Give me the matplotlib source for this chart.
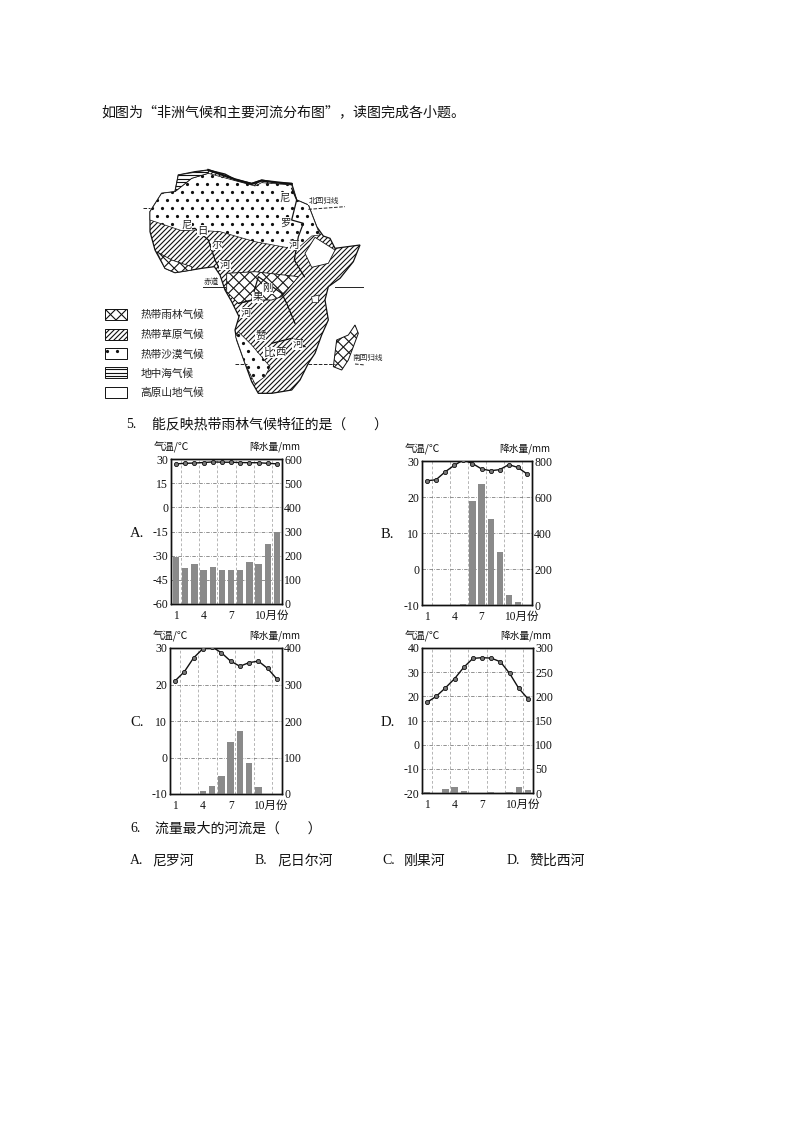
import matplotlib
matplotlib.use('Agg')
import numpy as np
import matplotlib.pyplot as plt
from matplotlib.patches import Polygon, Rectangle

plt.rcParams['font.family'] = ['Noto Sans CJK SC', 'DejaVu Sans']

W, H = 794, 1123
months = list(range(1, 13))
month_ticks = [1, 4, 7, 10]
month_labels = ['1', '4', '7', '']
month_unit = '10月份'

temp_a = [27, 27.3, 27.5, 27.8, 28.2, 28, 28, 27.8, 27.7, 27.7, 27.3, 27]
rain_a = [195, 150, 165, 140, 155, 140, 142, 142, 175, 165, 250, 300]
temp_b = [24.5, 24.8, 27, 28.8, 30.3, 29.3, 27.8, 27.3, 27.6, 29, 28.2, 26.4]
rain_b = [0, 0, 0, 0, 5, 580, 670, 480, 295, 55, 15, 0]
temp_c = [21, 23.5, 27.3, 29.8, 30.3, 28.7, 26.4, 25, 26, 26.4, 24.4, 21.5]
rain_c = [0, 0, 0, 8, 23, 50, 143, 173, 85, 18, 0, 0]
temp_d = [17.5, 20, 23.5, 27.3, 32, 35.7, 36, 35.8, 34.3, 29.5, 23.3, 19]
rain_d = [3, 1, 8, 12, 4, 0, 0, 2, 0, 3, 12, 6]

ticks_temp_a = [-60, -45, -30, -15, 0, 15, 30]
ticks_rain_a = [0, 100, 200, 300, 400, 500, 600]
ticks_temp_b = [-10, 0, 10, 20, 30]
ticks_rain_b = [0, 200, 400, 600, 800]
ticks_temp_c = [-10, 0, 10, 20, 30]
ticks_rain_c = [0, 100, 200, 300, 400]
ticks_temp_d = [-20, -10, 0, 10, 20, 30, 40]
ticks_rain_d = [0, 50, 100, 150, 200, 250, 300]

fig = plt.figure(figsize=(W / 100, H / 100), dpi=100, facecolor='white')
page = fig.add_axes([0, 0, 1, 1])
page.set_xlim(0, W)
page.set_ylim(H, 0)
page.axis('off')
SERIF = ['Liberation Serif', 'Noto Sans CJK SC']


def txt(x, y, s, size=10, **kw):
    kw.setdefault('va', 'center')
    kw.setdefault('ha', 'left')
    page.text(x, y, s, fontsize=size, color='#111111', **kw)


txt(101, 112, '如图为“非洲气候和主要河流分布图”，读图完成各小题。', 10.1)
txt(126, 424, '5.', 10, family=SERIF)
txt(152, 424, '能反映热带雨林气候特征的是（\u3000\u3000）', 10)
txt(130, 829, '6.', 10, family=SERIF)
txt(155, 829, '流量最大的河流是（\u3000\u3000）', 10)
answers = [(130, 'A.', '尼罗河'), (255, 'B.', '尼日尔河'), (382, 'C.', '刚果河'), (507, 'D.', '赞比西河')]
for x, a, b in answers:
    txt(x, 861, a, 10, family=SERIF)
    txt(x + 22, 861, b, 10)


def chart(box, letter, lx, temp, rain, tt, tr):
    l, r, t, b = box
    rect = [l / W, 1 - b / H, (r - l) / W, (b - t) / H]
    ax = fig.add_axes(rect)
    ax.set_xlim(0.45, 12.55)
    ax.set_ylim(tt[0], tt[-1])
    ax.set_xticks(month_ticks)
    ax.set_xticklabels(month_labels, fontsize=8.3, family=SERIF)
    ax.annotate(month_unit, xy=(10, 0), xycoords=('data', 'axes fraction'),
                xytext=(-3.6, -4), textcoords='offset points', ha='left', va='top',
                fontsize=8.3, family=SERIF, color='#111111')
    ax.set_yticks(tt)
    ax.set_yticklabels([str(v) for v in tt], fontsize=8.5, family='Liberation Serif')
    ax.tick_params(axis='x', length=0, pad=4, colors='#111111')
    ax.tick_params(axis='y', length=0, pad=2, colors='#111111')
    ax.grid(axis='y', color='#666666', lw=0.5, ls=(0, (5, 2, 1, 2)))
    for m in [1.5, 3.5, 5.5, 7.5, 9.5, 11.5]:
        ax.axvline(m, color='#999999', lw=0.5, ls=(0, (4, 3)), zorder=0)
    ax2 = ax.twinx()
    ax2.set_ylim(tr[0], tr[-1])
    ax2.set_yticks(tr)
    ax2.set_yticklabels([str(v) for v in tr], fontsize=8.5, family='Liberation Serif')
    ax2.tick_params(axis='y', length=0, pad=1.5, colors='#111111')
    ax2.bar(months, rain, width=0.68, color='#8a8a8a', zorder=2)
    ax3 = fig.add_axes(rect, sharex=ax)
    ax3.patch.set_alpha(0)
    ax3.set_ylim(tt[0], tt[-1])
    ax3.axis('off')
    ax3.plot(months, temp, color='#111111', lw=1.0, marker='o', ms=3,
             mfc='#777777', mec='#111111', mew=0.6, zorder=4)
    for a in (ax, ax2):
        for s in a.spines.values():
            s.set_linewidth(1.0)
            s.set_color('#111111')
    txt(l - 17, t - 12, '气温/℃', 7.5)
    txt(r + 18, t - 12, '降水量/mm', 7, ha='right')
    txt(lx, (t + b) / 2 + 2, letter + '.', 10.5, family='Liberation Serif')


chart((171, 282, 459, 604), 'A', 130, temp_a, rain_a, ticks_temp_a, ticks_rain_a)
chart((422, 532, 461, 605), 'B', 381, temp_b, rain_b, ticks_temp_b, ticks_rain_b)
chart((170, 282, 648, 794), 'C', 130, temp_c, rain_c, ticks_temp_c, ticks_rain_c)
chart((422, 533, 648, 793), 'D', 381, temp_d, rain_d, ticks_temp_d, ticks_rain_d)

# ---- map outlines, in crop coordinates of the map picture
continent = [(250, 45), (300, 35), (340, 30), (390, 42), (420, 58), (470, 70), (500, 60), (545, 68),
             (590, 70), (605, 120), (640, 135), (665, 200), (685, 228), (705, 235), (720, 265),
             (795, 255), (775, 305), (735, 355), (700, 380), (690, 420), (700, 480), (680, 525),
             (660, 580), (640, 610), (615, 660), (590, 690), (530, 700), (490, 700), (470, 665),
             (450, 610), (425, 540), (420, 510), (432, 470), (410, 425), (390, 390), (375, 345),
             (358, 320), (320, 325), (290, 330), (240, 338), (210, 325), (180, 270), (165, 215),
             (165, 155), (200, 100), (240, 95)]
desert_n = [(240, 95), (290, 55), (340, 40), (420, 62), (480, 78), (500, 68), (590, 75), (605, 120),
            (640, 135), (665, 200), (675, 225), (650, 228), (605, 268), (480, 245), (375, 215),
            (300, 210), (260, 212), (165, 180), (165, 155), (200, 100)]
mediter = [(250, 45), (340, 30), (340, 40), (290, 55), (240, 95)]
forest_w = [(185, 275), (230, 300), (290, 320), (290, 330), (240, 338), (210, 325)]
forest_c = [(395, 340), (480, 335), (610, 350), (560, 410), (530, 420), (480, 420),
            (430, 430), (395, 395)]
plateau_e = [(660, 232), (720, 270), (700, 310), (650, 322), (630, 280)]
desert_s = [(430, 515), (470, 555), (525, 620), (510, 650), (480, 672), (450, 610), (422, 530)]
madagascar = [(780, 495), (790, 520), (760, 600), (740, 630), (715, 620), (725, 540), (760, 525)]
lake = [(650, 410), (672, 405), (670, 428), (652, 428)]
coast_n = [(340, 30), (420, 58), (470, 72), (500, 62), (590, 72)]
nile = [(590, 85), (605, 120), (590, 180), (625, 190), (610, 230), (598, 300), (628, 350)]
niger = [(265, 210), (300, 205), (340, 240), (360, 300), (375, 330)]
congo = [(430, 430), (470, 420), (490, 350), (560, 400), (575, 430), (600, 490)]
zambezi = [(530, 550), (590, 535), (630, 560)]
tropic_n = [[(145, 145), (165, 145)], [(640, 148), (750, 140)]]
equator = [[(325, 380), (390, 380)], [(720, 380), (805, 380)]]
tropic_s = [[(420, 612), (455, 612)], [(640, 612), (720, 612)], [(780, 612), (810, 615)]]

map_labels = [(568, 112, '尼'), (570, 188, '罗'), (597, 255, '河'), (275, 195, '尼'),
              (322, 212, '日'), (365, 255, '尔'), (390, 315, '河'), (518, 385, '刚'),
              (488, 412, '果'), (452, 458, '河'), (497, 528, '赞'), (520, 577, '比'),
              (556, 577, '西'), (608, 553, '河')]
small_labels = [(640, 122, '北回归线'), (325, 365, '赤道'), (772, 595, '南回归线')]
legend_names = ['热带雨林气候', '热带草原气候', '热带沙漠气候', '地中海气候', '高原山地气候']
legend_kind = ['cross', 'diag', 'dots', 'horiz', 'none']
legend_y = [447, 507, 565, 622, 680]


def mp(pts):
    return [(95 + x / 3, 160 + y / 3) for x, y in pts]


layer = [1.0]


def fill(patch, kind):
    """Draw one map symbol over what lies beneath, its pattern clipped to the patch."""
    z = layer[0]
    layer[0] += 1
    patch.set_zorder(z)
    page.add_patch(patch)
    x0, y0, x1, y1 = patch.get_path().get_extents(patch.get_patch_transform()).extents
    segs = []
    if kind == 'diag':
        segs = [[(c, y0), (c - (y1 - y0), y1)] for c in np.arange(x0, x1 + y1 - y0, 5.0)]
    elif kind == 'cross':
        for c in np.arange(x0 - (y1 - y0), x1 + y1 - y0, 11.0):
            segs.append([(c, y0), (c - (y1 - y0), y1)])
            segs.append([(c, y0), (c + (y1 - y0), y1)])
    elif kind == 'horiz':
        segs = [[(x0, y), (x1, y)] for y in np.arange(y0 + 2, y1, 3.4)]
    for s in segs:
        ln, = page.plot([s[0][0], s[1][0]], [s[0][1], s[1][1]], color='#111111', lw=0.8,
                        zorder=z + 0.5)
        ln.set_clip_path(patch)
    if kind == 'dots':
        xs, ys = [], []
        for i, y in enumerate(np.arange(y0 + 3, y1, 8.0)):
            for x in np.arange(x0 + 2 + (i % 2) * 5, x1, 10.0):
                xs.append(x)
                ys.append(y)
        ln, = page.plot(xs, ys, ls='none', marker='o', ms=1.3, color='#111111', zorder=z + 0.5)
        ln.set_clip_path(patch)


fill(Polygon(mp(continent), fc='white', ec='#111111', lw=0.9), 'diag')
fill(Polygon(mp(desert_n), fc='white', ec='#111111', lw=0.5), 'dots')
fill(Polygon(mp(mediter), fc='white', ec='#111111', lw=0.6), 'horiz')
fill(Polygon(mp(forest_w), fc='white', ec='#111111', lw=0.6), 'cross')
fill(Polygon(mp(forest_c), fc='white', ec='#111111', lw=0.6), 'cross')
fill(Polygon(mp(plateau_e), fc='white', ec='#111111', lw=0.6), 'none')
fill(Polygon(mp(lake), fc='white', ec='#111111', lw=0.5), 'none')
fill(Polygon(mp(desert_s), fc='white', ec='#111111', lw=0.5), 'dots')
fill(Polygon(mp(madagascar), fc='white', ec='#111111', lw=0.7), 'cross')
top = layer[0] + 20
pts = mp(coast_n)
page.plot([p[0] for p in pts], [p[1] for p in pts], color='#111111', lw=1.6, zorder=top)
for river in (nile, niger, congo, zambezi):
    pts = mp(river)
    page.plot([p[0] for p in pts], [p[1] for p in pts], color='#111111', lw=0.9, zorder=top)
for group, style in ((tropic_n, '--'), (equator, '-'), (tropic_s, '--')):
    for seg in group:
        pts = mp(seg)
        page.plot([p[0] for p in pts], [p[1] for p in pts], color='#222222', lw=0.7, ls=style,
                  zorder=top)
for x, y, s in map_labels:
    (px, py), = mp([(x, y)])
    page.text(px, py, s, fontsize=7.5, ha='center', va='center', color='#222222',
              bbox=dict(fc='white', ec='none', pad=0.3), zorder=top + 1)
for x, y, s in small_labels:
    (px, py), = mp([(x, y)])
    page.text(px, py, s, fontsize=5.5, ha='left', va='center', color='#222222',
              bbox=dict(fc='white', ec='none', pad=0.2), zorder=top + 1)
for y, name, k in zip(legend_y, legend_names, legend_kind):
    (px, py), = mp([(30, y)])
    fill(Rectangle((px, py), 22, 11, fc='white', ec='#111111', lw=0.7), k)
    (tx, ty), = mp([(137, y + 18)])
    page.text(tx, ty, name, fontsize=7.7, ha='left', va='center', color='#222222')

page.set_xlim(0, W)
page.set_ylim(H, 0)
page.set_zorder(5)
page.patch.set_alpha(0)
fig.savefig('out.png', dpi=100)
